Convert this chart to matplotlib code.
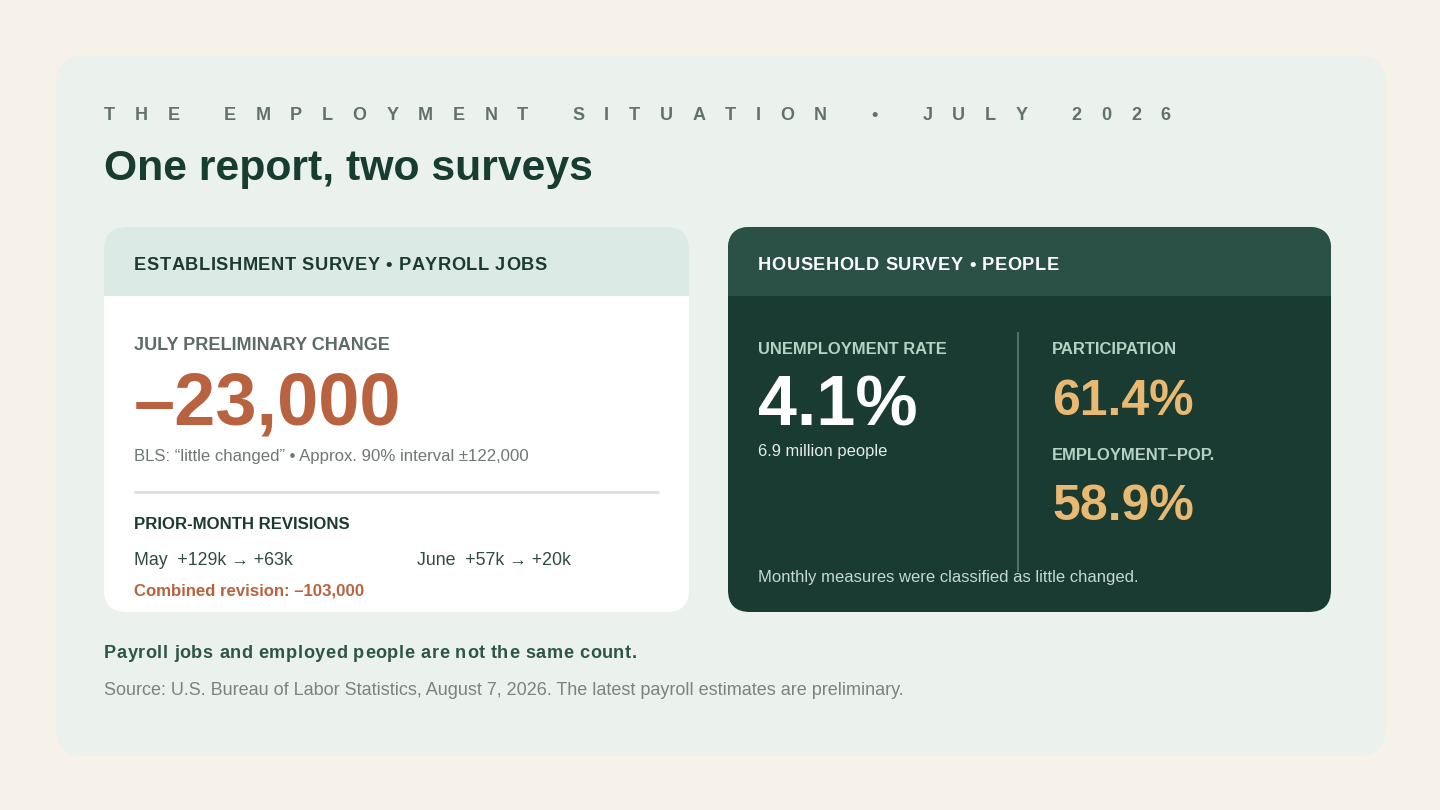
import matplotlib

matplotlib.use("Agg")
import matplotlib.pyplot as plt
from matplotlib import font_manager
from matplotlib.ft2font import FT2Font
from matplotlib.patches import FancyBboxPatch, Rectangle

# ---- content -------------------------------------------------------------
kicker = "THE EMPLOYMENT SITUATION \u2022 JULY 2026"
title = "One report, two surveys"

left_header = "ESTABLISHMENT SURVEY \u2022 PAYROLL JOBS"
july_label = "JULY PRELIMINARY CHANGE"
july_change = -23000
interval_90 = 122000
revision_months = ["May", "June"]
revision_before = [129, 57]  # thousands
revision_after = [63, 20]  # thousands

right_header = "HOUSEHOLD SURVEY \u2022 PEOPLE"
household_labels = ["UNEMPLOYMENT RATE", "PARTICIPATION", "EMPLOYMENT\u2013POP."]
household_values = [4.1, 61.4, 58.9]
unemployed_millions = 6.9
household_note = "Monthly measures were classified as little changed."

takeaway = "Payroll jobs and employed people are not the same count."
source = "Source: U.S. Bureau of Labor Statistics, August 7, 2026. The latest payroll estimates are preliminary."

# ---- style ---------------------------------------------------------------
FAMILY = ["Liberation Sans", "DejaVu Sans"]
PAGE = "#f6f2e9"
PANEL = "#ebf1ed"
LEFT_HEAD = "#dbeae4"
RIGHT_BODY = "#1a3b32"
RIGHT_HEAD = "#2b5045"
DARK = "#173d30"
MUTED = "#617269"
TERRA = "#b8623f"
SAND = "#e9b972"
PALE = "#b7d1c5"

_fonts = {}


def advance(ch, px, weight):
    if weight not in _fonts:
        path = font_manager.findfont(font_manager.FontProperties(family=FAMILY[0], weight=weight))
        _fonts[weight] = FT2Font(path)
    f = _fonts[weight]
    f.set_size(px, 72)
    g = f.load_char(ord(ch))
    return g.linearHoriAdvance / 65536


def put(ax, x, y, s, px, color, weight="normal", track=0.0):
    kw = dict(fontsize=px * 0.72, color=color, fontweight=weight, family=FAMILY,
              va="baseline", ha="left", zorder=10)
    if not track:
        return ax.text(x, y, s, **kw)
    # letter-spaced text, one glyph at a time
    cx = x
    for ch in s:
        ax.text(cx, y, ch, **kw)
        cx += advance(ch, px, weight) + track


def card(ax, x, y, w, h, r, color, z):
    p = FancyBboxPatch((x, y), w, h, boxstyle=f"round,pad=0,rounding_size={r}",
                       fc=color, ec="none", zorder=z)
    ax.add_patch(p)
    return p


def signed(v):
    return ("\u2013" if v < 0 else "+") + f"{abs(v):,}"


fig = plt.figure(figsize=(14.4, 8.1), dpi=100)
fig.patch.set_facecolor(PAGE)
ax = fig.add_axes([0, 0, 1, 1])
ax.set_xlim(0, 1440)
ax.set_ylim(810, 0)
ax.axis("off")

card(ax, 56, 56, 1330, 700, 28, PANEL, 1)

put(ax, 104, 120, kicker, 18, MUTED, "bold", track=19.7)
put(ax, 104, 180, title, 42.7, DARK, "bold")

# left card
lc = card(ax, 104, 227, 585, 385, 22, "white", 2)
band = Rectangle((104, 227), 585, 69, fc=LEFT_HEAD, ec="none", zorder=3)
ax.add_patch(band)
band.set_clip_path(lc)
put(ax, 134, 270, left_header, 18.3, "#1c3a31", "bold", track=0.55)
put(ax, 134, 350, july_label, 18, "#5d6b65", "bold")
put(ax, 134, 425, signed(july_change), 74, TERRA, "bold")
put(ax, 134, 461, f"BLS: \u201clittle changed\u201d \u2022 Approx. 90% interval \u00b1{interval_90:,}", 16.8, "#6f7772")
ax.plot([134, 659], [492, 492], color="#dcdfdd", lw=2, zorder=4, solid_capstyle="butt")
put(ax, 134, 529, "PRIOR-MONTH REVISIONS", 16.8, "#1c3a31", "bold")
for i, m in enumerate(revision_months):
    txt = f"{m}  +{revision_before[i]}k \u2192 +{revision_after[i]}k"
    put(ax, [134, 417][i], 565, txt, 17.8, "#2f4a40")
combined = sum(a - b for a, b in zip(revision_after, revision_before)) * 1000
put(ax, 134, 595, f"Combined revision: {signed(combined)}", 16.7, TERRA, "bold")

# right card
rc = card(ax, 728, 227, 603, 385, 22, RIGHT_BODY, 2)
band = Rectangle((728, 227), 603, 69, fc=RIGHT_HEAD, ec="none", zorder=3)
ax.add_patch(band)
band.set_clip_path(rc)
put(ax, 758, 270, right_header, 18.3, "white", "bold", track=0.55)
ax.plot([1018, 1018], [333, 571], color="#4f7065", lw=1.5, zorder=4)

put(ax, 758, 354, household_labels[0], 16.5, PALE, "bold")
put(ax, 758, 425, f"{household_values[0]}%", 70, "white", "bold")
put(ax, 758, 456, f"{unemployed_millions} million people", 16.5, "#e4ede8")

put(ax, 1052, 354, household_labels[1], 16.6, PALE, "bold")
put(ax, 1052, 415, f"{household_values[1]}%", 50, SAND, "bold")
put(ax, 1052, 460, household_labels[2], 16.5, PALE, "bold")
put(ax, 1052, 520, f"{household_values[2]}%", 50, SAND, "bold")
put(ax, 758, 582, household_note, 16.6, "#c8d7cf")

# footer
put(ax, 104, 658, takeaway, 18.2, "#2e5647", "bold", track=0.5)
put(ax, 104, 695, source, 18, "#7a847e")

fig.savefig("out.png", dpi=100, facecolor=PAGE)
